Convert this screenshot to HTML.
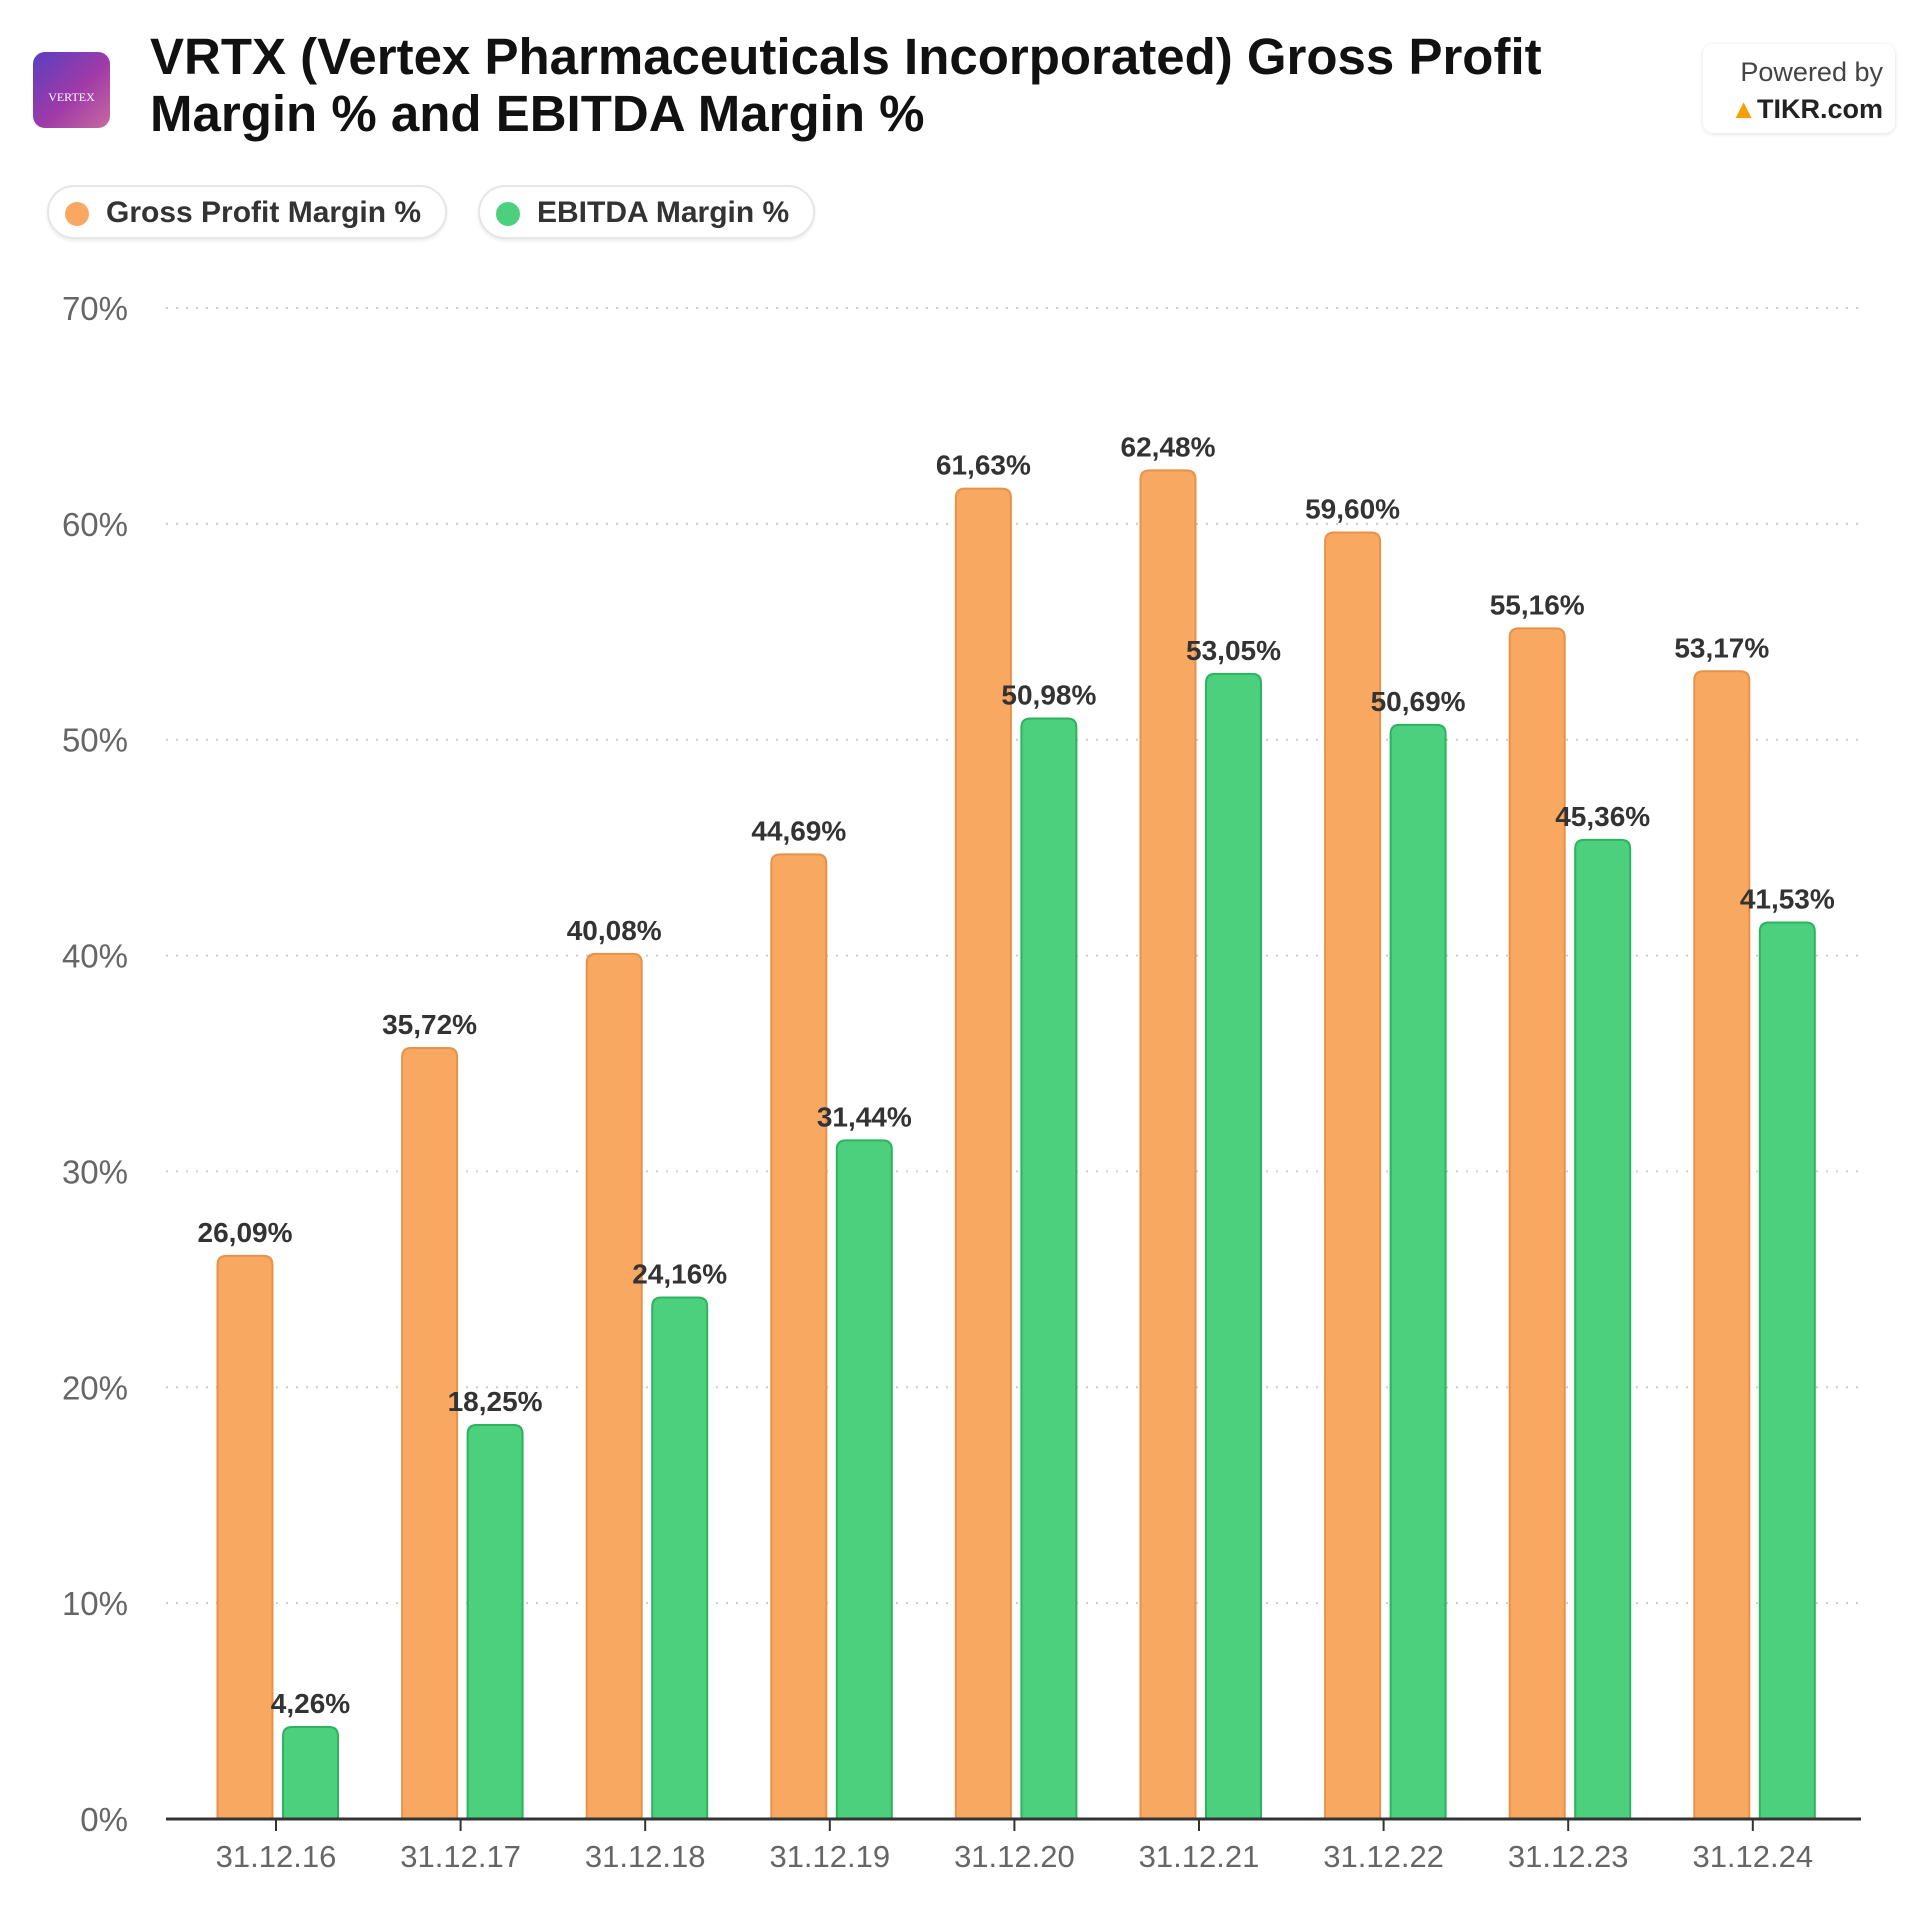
<!DOCTYPE html>
<html><head><meta charset="utf-8"><style>
body{margin:0;background:#fff;font-family:"Liberation Sans",Arial,sans-serif}
#wrap{position:relative;width:1920px;height:1920px;overflow:hidden}
.title{position:absolute;left:150px;top:28px;font-size:51px;font-weight:bold;color:#111;line-height:57px}
.pill{position:absolute;top:185px;height:54px;border:2px solid #e6e6e6;border-radius:27px;box-shadow:0 2px 3px rgba(0,0,0,.08);font-size:30px;font-weight:bold;color:#333;line-height:52px;box-sizing:border-box}
.dot{position:absolute;left:16px;top:15px;width:24px;height:24px;border-radius:50%}
</style></head><body>
<div id="wrap">
<div style="position:absolute;left:33px;top:52px;width:77px;height:76px;border-radius:12px;background:linear-gradient(135deg,#5a3fc0,#a03aa8 55%,#c86aa0);color:#fff;font-family:'Liberation Serif',serif;font-size:12px;text-align:center;line-height:90px">VERTEX</div>
<div class="title">VRTX (Vertex Pharmaceuticals Incorporated) Gross Profit<br>Margin % and EBITDA Margin %</div>
<div style="position:absolute;left:1703px;top:44px;width:192px;height:89px;border-radius:10px;box-shadow:0 1px 5px rgba(0,0,0,.12);text-align:right;box-sizing:border-box;padding:10px 12px 0 0;font-size:27px;color:#444;line-height:37px">Powered by<br><b style="color:#222"><span style="color:#f5a000">▲</span>TIKR.com</b></div>
<div class="pill" style="left:47px;width:400px"><span class="dot" style="background:#f9a862"></span><span style="position:absolute;left:57px">Gross Profit Margin %</span></div>
<div class="pill" style="left:478px;width:337px"><span class="dot" style="background:#4cd07d"></span><span style="position:absolute;left:57px">EBITDA Margin %</span></div>
<svg id="chart" width="1920" height="1920" style="position:absolute;left:0;top:0"></svg>
</div>
<script>
const categories=["31.12.16","31.12.17","31.12.18","31.12.19","31.12.20","31.12.21","31.12.22","31.12.23","31.12.24"];
const grossProfit=[26.09,35.72,40.08,44.69,61.63,62.48,59.60,55.16,53.17];
const ebitda=[4.26,18.25,24.16,31.44,50.98,53.05,50.69,45.36,41.53];
const yTicks=[0,10,20,30,40,50,60,70];
const svg=document.getElementById('chart');
const NS='http://www.w3.org/2000/svg';
const x0=166,x1=1861,yBase=1819,yTop=308,yMax=70;
function y(v){return yBase-(v/yMax)*(yBase-yTop);}
function cx(i){return 276+i*184.6;}
function mk(t,a,p){const e=document.createElementNS(NS,t);for(const k in a)e.setAttribute(k,a[k]);(p||svg).appendChild(e);return e;}
yTicks.forEach(t=>{
 if(t>0){const l=mk('line',{x1:x0,x2:x1,y1:y(t),y2:y(t),stroke:'#ccc','stroke-width':2,'stroke-dasharray':'2,8'});
 
 }
 const tx=mk('text',{x:128,y:y(t)+12,'text-anchor':'end','font-size':33,fill:'#666','font-family':'Liberation Sans, sans-serif'});
 tx.textContent=t+'%';
 
 
});
function bar(xl,v,fill,stroke,name){
 const w=55,r=9,top=y(v);
 const d=`M${xl},${yBase} L${xl},${top+r} Q${xl},${top} ${xl+r},${top} L${xl+w-r},${top} Q${xl+w},${top} ${xl+w},${top+r} L${xl+w},${yBase} Z`;
 const p=mk('path',{d:d,fill:fill,stroke:stroke,'stroke-width':2});
 
 
 const t=mk('text',{x:xl+w/2,y:top-14,'text-anchor':'middle','font-size':28,'font-weight':'bold',fill:'#333','font-family':'Liberation Sans, sans-serif'});
 t.textContent=v.toFixed(2).replace('.',',')+'%';
 
 
}
categories.forEach((c,i)=>{
 bar(cx(i)-58.5,grossProfit[i],'#f9a862','#e8914a','bar-gross-'+c);
 bar(cx(i)+7,ebitda[i],'#4cd07d','#2db360','bar-ebitda-'+c);
 const tk=mk('line',{x1:cx(i),x2:cx(i),y1:yBase,y2:yBase+12,stroke:'#333','stroke-width':2});
 
 
 const t=mk('text',{x:cx(i),y:1867,'text-anchor':'middle','font-size':31,fill:'#666','font-family':'Liberation Sans, sans-serif'});
 t.textContent=c;
 
 
});
const ax=mk('line',{x1:x0,x2:x1,y1:yBase,y2:yBase,stroke:'#333','stroke-width':3});


</script>
</body></html>
